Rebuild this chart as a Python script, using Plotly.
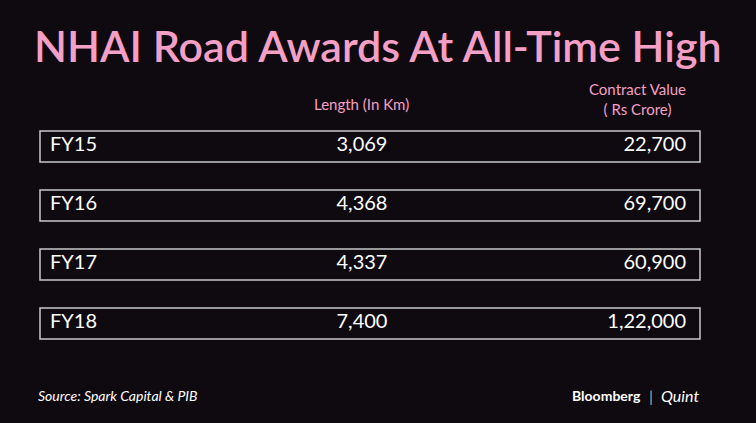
import plotly.graph_objects as go

years = ["FY15", "FY16", "FY17", "FY18"]
length_km = ["3,069", "4,368", "4,337", "7,400"]
contract_value = ["22,700", "69,700", "60,900", "1,22,000"]
row_centers = [146, 205, 264, 323]

BG = "#0f0a10"
PINK = "#f4a0c6"
W, H = 756, 423
FONT = "Lato, Open Sans, sans-serif"

fig = go.Figure()

# row boxes
for yc in row_centers:
    fig.add_shape(type="rect", x0=40, x1=700, y0=yc - 15, y1=yc + 16, layer="below",
                  line=dict(color="#c8c8c8", width=1.5))

txt = dict(family=FONT, size=20, color="white")
fig.add_trace(go.Scatter(x=[50] * 4, y=row_centers, text=years, mode="text",
                         textposition="middle right", textfont=txt))
fig.add_trace(go.Scatter(x=[362] * 4, y=row_centers, text=length_km, mode="text",
                         textposition="middle center", textfont=txt))
fig.add_trace(go.Scatter(x=[686] * 4, y=row_centers, text=contract_value, mode="text",
                         textposition="middle left", textfont=txt))


def ann(x, y, text, size, color, xanchor="center", weight="normal"):
    fig.add_annotation(x=x, y=y, text=text, showarrow=False, xanchor=xanchor,
                       yanchor="middle",
                       font=dict(family=FONT, size=size, color=color, weight=weight))


ann(378, 45, "NHAI Road Awards At All-Time High", 43, PINK, weight=600)
ann(361, 104, "Length (In Km)", 15, PINK)
ann(637, 99, "Contract Value<br>( Rs Crore)", 15, PINK)
ann(36, 395, "<i>Source: Spark Capital & PIB</i>", 14, "white", xanchor="left")
ann(643, 395, "<b>Bloomberg</b>", 14, "white", xanchor="right")
ann(651, 395, "|", 16, "#aaaaaa")
ann(659, 395, "<i>Quint</i>", 16, "white", xanchor="left")

fig.update_layout(
    width=W, height=H, margin=dict(l=0, r=0, t=0, b=0),
    paper_bgcolor=BG, plot_bgcolor=BG, showlegend=False,
    xaxis=dict(range=[0, W], visible=False, fixedrange=True),
    yaxis=dict(range=[H, 0], visible=False, fixedrange=True),
)
fig.write_html("out.html", config={"displayModeBar": False},
               post_script="document.body.style.margin='0';document.body.style.background='#0f0a10';")
